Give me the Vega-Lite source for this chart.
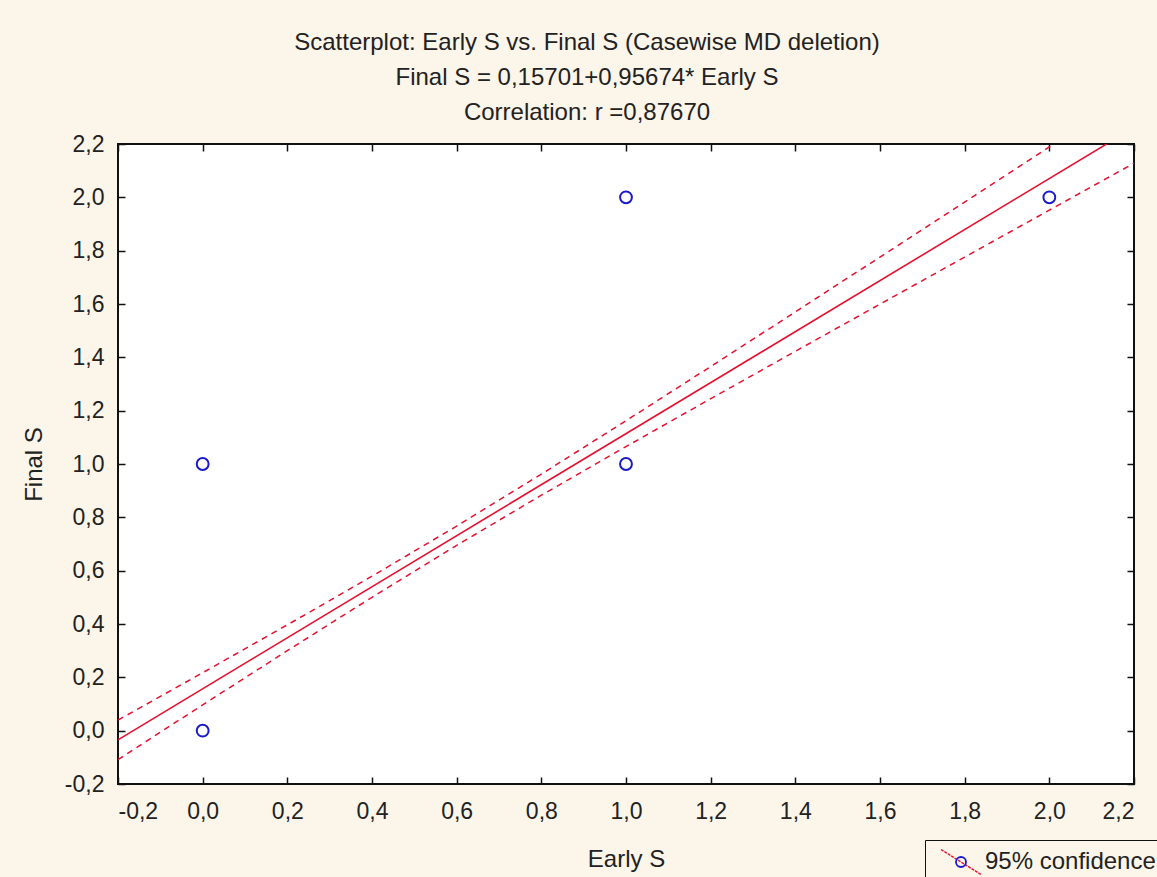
{
  "$schema": "https://vega.github.io/schema/vega-lite/v6.json",
  "autosize": "none",
  "width": 1016,
  "height": 640,
  "padding": {"left": 118, "top": 144, "right": 23, "bottom": 93},
  "background": "#fbf5ea",
  "config": {
    "view": {"fill": "white", "stroke": "#111", "strokeWidth": 2},
    "font": "Liberation Sans",
    "axis": {
      "labelFont": "Liberation Sans",
      "titleFont": "Liberation Sans",
      "labelFontSize": 23,
      "titleFontSize": 24,
      "titleFontWeight": "normal",
      "labelColor": "#222",
      "titleColor": "#222",
      "domain": false,
      "tickSize": -7,
      "tickColor": "#111",
      "tickWidth": 1.5,
      "grid": true,
      "gridColor": "#9a9a9a",
      "gridDash": [2, 3],
      "gridWidth": 1
    }
  },
  "title": {
    "text": ["Scatterplot: Early S vs. Final S (Casewise MD deletion)", "Final S = 0,15701+0,95674* Early S", "Correlation: r =0,87670"],
    "font": "Liberation Sans",
    "fontSize": 24,
    "fontWeight": "normal",
    "color": "#222",
    "lineHeight": 35,
    "anchor": "middle",
    "dx": -39,
    "offset": 8
  },
  "datasets": {
    "points": [
      {"early": 0.0, "final": 0.0, "key": "95% confidence"},
      {"early": 0.0, "final": 1.0, "key": "95% confidence"},
      {"early": 1.0, "final": 1.0, "key": "95% confidence"},
      {"early": 1.0, "final": 2.0, "key": "95% confidence"},
      {"early": 2.0, "final": 2.0, "key": "95% confidence"}
    ],
    "fit": [
      {"early": -0.2, "final": -0.03434, "key": "95% confidence"},
      {"early": 2.2, "final": 2.26184, "key": "95% confidence"}
    ],
    "band": [
      {"early": -0.2, "final": 0.0396, "side": "upper"},
      {"early": 0.0, "final": 0.2173, "side": "upper"},
      {"early": 0.2, "final": 0.3968, "side": "upper"},
      {"early": 0.4, "final": 0.5792, "side": "upper"},
      {"early": 0.6, "final": 0.7672, "side": "upper"},
      {"early": 0.8, "final": 0.9619, "side": "upper"},
      {"early": 1.0, "final": 1.1622, "side": "upper"},
      {"early": 1.2, "final": 1.3654, "side": "upper"},
      {"early": 1.4, "final": 1.5704, "side": "upper"},
      {"early": 1.6, "final": 1.7761, "side": "upper"},
      {"early": 1.8, "final": 1.9823, "side": "upper"},
      {"early": 2.0, "final": 2.1890, "side": "upper"},
      {"early": 2.2, "final": 2.3957, "side": "upper"},
      {"early": -0.2, "final": -0.1082, "side": "lower"},
      {"early": 0.0, "final": 0.0967, "side": "lower"},
      {"early": 0.2, "final": 0.3000, "side": "lower"},
      {"early": 0.4, "final": 0.5002, "side": "lower"},
      {"early": 0.6, "final": 0.6950, "side": "lower"},
      {"early": 0.8, "final": 0.8829, "side": "lower"},
      {"early": 1.0, "final": 1.0654, "side": "lower"},
      {"early": 1.2, "final": 1.2448, "side": "lower"},
      {"early": 1.4, "final": 1.4226, "side": "lower"},
      {"early": 1.6, "final": 1.5995, "side": "lower"},
      {"early": 1.8, "final": 1.7759, "side": "lower"},
      {"early": 2.0, "final": 1.9520, "side": "lower"},
      {"early": 2.2, "final": 2.1279, "side": "lower"}
    ]
  },
  "resolve": {"axis": {"x": "independent", "y": "independent"}},
  "layer": [
    {
      "data": {"name": "band"},
      "mark": {"type": "line", "clip": true, "color": "#e8102e", "strokeWidth": 1.5, "strokeDash": [6, 5]},
      "encoding": {
        "x": {"field": "early", "type": "quantitative",
          "scale": {"domain": [-0.2, 2.2], "nice": false, "zero": false},
          "axis": {"orient": "top", "labels": false, "title": null, "grid": false,
            "values": [-0.2, 0, 0.2, 0.4, 0.6, 0.8, 1.0, 1.2, 1.4, 1.6, 1.8, 2.0, 2.2]}},
        "y": {"field": "final", "type": "quantitative",
          "scale": {"domain": [-0.2, 2.2], "nice": false, "zero": false},
          "axis": {"orient": "right", "labels": false, "title": null, "grid": false,
            "values": [-0.2, 0, 0.2, 0.4, 0.6, 0.8, 1.0, 1.2, 1.4, 1.6, 1.8, 2.0, 2.2]}},
        "detail": {"field": "side"}
      }
    },
    {
      "data": {"name": "fit"},
      "mark": {"type": "line", "clip": true, "strokeWidth": 1.6},
      "encoding": {
        "x": {"field": "early", "type": "quantitative", "axis": null},
        "y": {"field": "final", "type": "quantitative", "axis": null},
        "stroke": {"field": "key", "type": "nominal",
          "scale": {"range": ["#e8102e"]},
          "legend": {"orient": "none", "legendX": 807, "legendY": 696, "title": null,
            "padding": 10, "labelExpr": "''", "labelFontSize": 24, "labelOffset": 12,
            "symbolType": "M-2,-1.25L2,1.25", "symbolSize": 400, "symbolOffset": 14,
            "symbolStrokeWidth": 1.4, "symbolDash": [3, 1], "symbolStrokeColor": "#b0102e"}}
      }
    },
    {
      "data": {"name": "points"},
      "mark": {"type": "point", "filled": false, "size": 140, "strokeWidth": 2, "opacity": 1},
      "encoding": {
        "x": {"field": "early", "type": "quantitative", "title": "Early S",
          "axis": {"orient": "bottom", "titlePadding": 24, "labelPadding": 23,
            "values": [-0.2, 0, 0.2, 0.4, 0.6, 0.8, 1.0, 1.2, 1.4, 1.6, 1.8, 2.0, 2.2],
            "labelExpr": "(datum.value < -0.0001 ? '-' : '') + replace(format(abs(datum.value), '.1f'), '.', ',')"}},
        "y": {"field": "final", "type": "quantitative", "title": "Final S",
          "axis": {"orient": "left", "titlePadding": 18, "labelPadding": 21,
            "values": [-0.2, 0, 0.2, 0.4, 0.6, 0.8, 1.0, 1.2, 1.4, 1.6, 1.8, 2.0, 2.2],
            "labelExpr": "(datum.value < -0.0001 ? '-' : '') + replace(format(abs(datum.value), '.1f'), '.', ',')"}},
        "color": {"field": "key", "type": "nominal",
          "scale": {"range": ["#1a1acc"]},
          "legend": {"orient": "none", "legendX": 807, "legendY": 696, "title": null,
            "strokeColor": "#111", "padding": 10, "labelLimit": 0,
            "labelFont": "Liberation Sans", "labelFontSize": 24, "labelColor": "#222", "labelOffset": 12,
            "symbolType": "M0.5,0A0.5,0.5,0,1,1,-0.5,0A0.5,0.5,0,1,1,0.5,0",
            "symbolSize": 400, "symbolOffset": 14, "symbolStrokeWidth": 1.8, "symbolFillColor": "transparent"}}
      }
    }
  ]
}
